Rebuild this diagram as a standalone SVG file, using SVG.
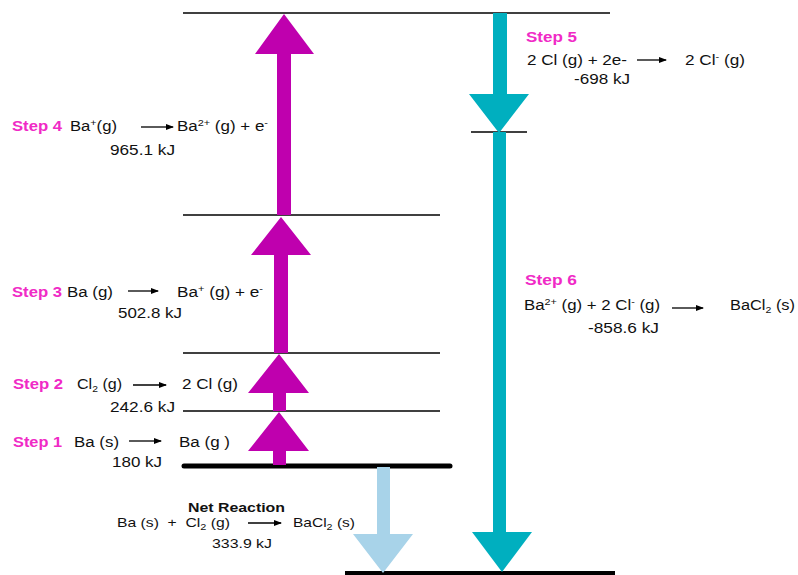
<svg xmlns="http://www.w3.org/2000/svg" width="798" height="575" viewBox="0 0 798 575">
<defs>
<marker id="ah" markerWidth="8" markerHeight="6" refX="7" refY="3" orient="auto" markerUnits="userSpaceOnUse"><path d="M0,0 L8,3 L0,6 Z" fill="#000"/></marker>
<style>
.t{font-family:"Liberation Sans",Arial,sans-serif;font-size:14px;fill:#111}
.n{font-family:"Liberation Sans",Arial,sans-serif;font-size:13px;fill:#111}
.s{font-family:"Liberation Sans",Arial,sans-serif;font-size:14.5px;font-weight:bold;fill:#F02AC6}
.sup{font-size:9px}
.lv{stroke:#000;stroke-width:1.5;fill:none}
.ra{stroke:#000;stroke-width:1.3;marker-end:url(#ah)}
.mag{fill:#BF00AE}
.teal{fill:#00AFBF}
.lb{fill:#A8D3E9}
</style>
</defs>
<rect width="798" height="575" fill="#fff"/>

<g id="levels">
<line class="lv" x1="183" y1="13" x2="610" y2="13"/>
<line class="lv" x1="183" y1="215" x2="440" y2="215"/>
<line class="lv" x1="183" y1="353" x2="440" y2="353"/>
<line class="lv" x1="183" y1="411" x2="440" y2="411"/>
<line x1="184" y1="466" x2="450" y2="466" stroke="#000" stroke-width="5" stroke-linecap="round"/>
<line x1="345" y1="573" x2="615" y2="573" stroke="#000" stroke-width="4"/>
<line class="lv" x1="471" y1="132" x2="527" y2="132"/>
</g>

<g id="connectors">
<polygon class="mag" points="273,465 286,465 286,451 309,451 279,412 248,451 273,451"/>
<polygon class="mag" points="273,411 286,411 286,393 309,393 279,354 248,393 273,393"/>
<polygon class="mag" points="274,353 288,353 288,255 311,255 281,217 251,255 274,255"/>
<polygon class="mag" points="277,215 291,215 291,54 314,54 284,14 255,54 277,54"/>
<polygon class="teal" points="493,13 507,13 507,94 529,94 499,133 469,94 493,94"/>
<polygon class="teal" points="493,132 506,132 506,532 532,532 502,572 472,532 493,532"/>
<polygon class="lb" points="377,467 390,467 390,534 413,534 383,573 353,534 377,534"/>
</g>

<g id="step4">
<text class="s" x="12" y="131" textLength="50" lengthAdjust="spacingAndGlyphs">Step 4</text>
<text class="t" x="70" y="131" textLength="47" lengthAdjust="spacingAndGlyphs">Ba<tspan class="sup" dy="-5">+</tspan><tspan dy="5">(g)</tspan></text>
<line class="ra" x1="141" y1="127" x2="173" y2="127"/>
<text class="t" x="177" y="131" textLength="91" lengthAdjust="spacingAndGlyphs">Ba<tspan class="sup" dy="-5">2+</tspan><tspan dy="5"> (g) + e</tspan><tspan class="sup" dy="-5">-</tspan></text>
<text class="t" x="110" y="155" textLength="65" lengthAdjust="spacingAndGlyphs">965.1 kJ</text>
</g>

<g id="step3">
<text class="s" x="12" y="297" textLength="50" lengthAdjust="spacingAndGlyphs">Step 3</text>
<text class="t" x="67" y="297" textLength="46" lengthAdjust="spacingAndGlyphs">Ba (g)</text>
<line class="ra" x1="128" y1="291" x2="158" y2="291"/>
<text class="t" x="177" y="297" textLength="86" lengthAdjust="spacingAndGlyphs">Ba<tspan class="sup" dy="-5">+</tspan><tspan dy="5"> (g) + e</tspan><tspan class="sup" dy="-5">-</tspan></text>
<text class="t" x="118" y="318" textLength="64" lengthAdjust="spacingAndGlyphs">502.8 kJ</text>
</g>

<g id="step2">
<text class="s" x="13" y="389" textLength="50" lengthAdjust="spacingAndGlyphs">Step 2</text>
<text class="t" x="77" y="389" textLength="45" lengthAdjust="spacingAndGlyphs">Cl<tspan class="sup" dy="3">2</tspan><tspan dy="-3"> (g)</tspan></text>
<line class="ra" x1="133" y1="385" x2="166" y2="385"/>
<text class="t" x="182" y="389" textLength="56" lengthAdjust="spacingAndGlyphs">2 Cl (g)</text>
<text class="t" x="110" y="412" textLength="65" lengthAdjust="spacingAndGlyphs">242.6 kJ</text>
</g>

<g id="step1">
<text class="s" x="13" y="447" textLength="49" lengthAdjust="spacingAndGlyphs">Step 1</text>
<text class="t" x="74" y="447" textLength="45" lengthAdjust="spacingAndGlyphs">Ba (s)</text>
<line class="ra" x1="129" y1="441" x2="161" y2="441"/>
<text class="t" x="179" y="447" textLength="51" lengthAdjust="spacingAndGlyphs">Ba (g )</text>
<text class="t" x="112" y="467" textLength="50" lengthAdjust="spacingAndGlyphs">180 kJ</text>
</g>

<g id="net">
<text class="n" x="188" y="512" font-weight="bold" textLength="97" lengthAdjust="spacingAndGlyphs">Net Reaction</text>
<text class="n" x="117" y="527" textLength="113" lengthAdjust="spacingAndGlyphs">Ba (s)&#160;&#160;+&#160;&#160;Cl<tspan class="sup" dy="3">2</tspan><tspan dy="-3"> (g)</tspan></text>
<line class="ra" x1="248" y1="523" x2="281" y2="523"/>
<text class="n" x="293" y="527" textLength="62" lengthAdjust="spacingAndGlyphs">BaCl<tspan class="sup" dy="3">2</tspan><tspan dy="-3"> (s)</tspan></text>
<text class="n" x="212" y="548" textLength="60" lengthAdjust="spacingAndGlyphs">333.9 kJ</text>
</g>

<g id="step5">
<text class="s" x="526" y="42" textLength="51" lengthAdjust="spacingAndGlyphs">Step 5</text>
<text class="t" x="527" y="65" textLength="100" lengthAdjust="spacingAndGlyphs">2 Cl (g) + 2e-</text>
<line class="ra" x1="637" y1="60" x2="666" y2="60"/>
<text class="t" x="685" y="65" textLength="60" lengthAdjust="spacingAndGlyphs">2 Cl<tspan class="sup" dy="-5">-</tspan><tspan dy="5"> (g)</tspan></text>
<text class="t" x="574" y="84" textLength="56" lengthAdjust="spacingAndGlyphs">-698 kJ</text>
</g>

<g id="step6">
<text class="s" x="525" y="285" textLength="52" lengthAdjust="spacingAndGlyphs">Step 6</text>
<text class="t" x="524" y="310" textLength="136" lengthAdjust="spacingAndGlyphs">Ba<tspan class="sup" dy="-5">2+</tspan><tspan dy="5"> (g) + 2 Cl</tspan><tspan class="sup" dy="-5">-</tspan><tspan dy="5"> (g)</tspan></text>
<line class="ra" x1="672" y1="308" x2="703" y2="308"/>
<text class="t" x="730" y="310" textLength="65" lengthAdjust="spacingAndGlyphs">BaCl<tspan class="sup" dy="3">2</tspan><tspan dy="-3"> (s)</tspan></text>
<text class="t" x="588" y="333" textLength="71" lengthAdjust="spacingAndGlyphs">-858.6 kJ</text>
</g>
</svg>
